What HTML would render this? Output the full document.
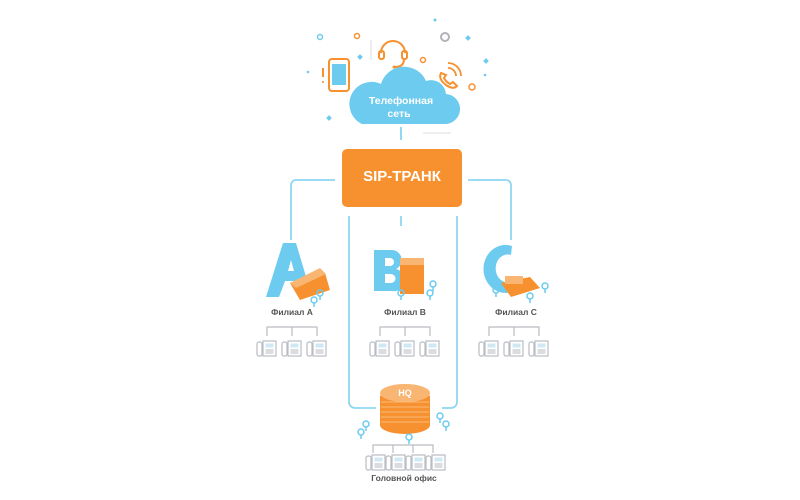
<!DOCTYPE html>
<html><head><meta charset="utf-8"><style>
html,body{margin:0;padding:0;background:#fff;width:800px;height:500px;overflow:hidden}
svg{display:block}
text{font-family:"Liberation Sans",sans-serif}
</style></head><body>
<svg width="800" height="500" viewBox="0 0 800 500" xmlns="http://www.w3.org/2000/svg">
<defs>
<g id="ph">
  <rect x="0" y="1" width="5" height="14" rx="2" fill="none" stroke="#b9bcc0" stroke-width="1.2"/>
  <rect x="6" y="0" width="13" height="15" fill="none" stroke="#b9bcc0" stroke-width="1.2"/>
  <rect x="8.5" y="2.5" width="8" height="4" fill="#cfe8f3"/>
  <rect x="8.5" y="8" width="8" height="5" fill="#dadcdf"/>
</g>
<g id="pin"><circle cx="0" cy="0" r="3" fill="none" stroke="#6ccbef" stroke-width="1.5"/><line x1="0" y1="3" x2="0" y2="7" stroke="#6ccbef" stroke-width="1.5"/></g>
</defs>

<g fill="#6ccbef">
<circle cx="320" cy="37" r="2.5" fill="none" stroke="#6ccbef" stroke-width="1.5"/>
<circle cx="435" cy="20" r="1.5"/>
<rect x="466" y="36" width="4" height="4" transform="rotate(45 468 38)"/>
<rect x="358" y="55" width="4" height="4" transform="rotate(45 360 57)"/>
<rect x="484" y="59" width="4" height="4" transform="rotate(45 486 61)"/>
<rect x="327" y="116" width="4" height="4" transform="rotate(45 329 118)"/>
<circle cx="308" cy="72" r="1.3"/><circle cx="485" cy="75" r="1.3"/>
</g>
<circle cx="357" cy="36" r="2.5" fill="none" stroke="#f7902e" stroke-width="1.5"/>
<circle cx="423" cy="60" r="2.5" fill="none" stroke="#f7902e" stroke-width="1.5"/>
<circle cx="472" cy="87" r="3" fill="none" stroke="#f7902e" stroke-width="1.5"/>
<circle cx="445" cy="37" r="4" fill="none" stroke="#b0b3b7" stroke-width="2"/>
<line x1="371" y1="40" x2="371" y2="60" stroke="#ddd" stroke-width="1"/>
<line x1="423" y1="133" x2="451" y2="133" stroke="#ddd" stroke-width="1"/>
<line x1="323" y1="68" x2="323" y2="77" stroke="#f7902e" stroke-width="2"/>
<circle cx="323" cy="82" r="1" fill="#f7902e"/>
<rect x="329" y="59" width="20" height="32" rx="3" fill="#fff" stroke="#f7902e" stroke-width="2"/>
<rect x="332" y="64" width="14" height="21" fill="#6ccbef"/>
<path d="M381 53 A12 12 0 0 1 405 53" fill="none" stroke="#f7902e" stroke-width="2"/>
<rect x="379" y="51" width="5" height="8" rx="2" fill="none" stroke="#f7902e" stroke-width="2"/>
<rect x="402" y="51" width="5" height="8" rx="2" fill="none" stroke="#f7902e" stroke-width="2"/>
<path d="M404 59 Q404 67 395 67" fill="none" stroke="#f7902e" stroke-width="2"/>
<circle cx="394" cy="67" r="1.5" fill="#f7902e"/>
<path d="M441 73 q-3 6 5 12 q7 5 11 1 l-4-4 -3 2 q-4-2-6-6 l2-3z" fill="none" stroke="#f7902e" stroke-width="2"/>
<path d="M448 68 a8 8 0 0 1 8 8 M448 63 a13 13 0 0 1 13 13" fill="none" stroke="#f7902e" stroke-width="1.8"/>

<!-- cloud -->
<path d="M362 124 h82 a15 15 0 0 0 2-30 a15 15 0 0 0-20-13 a24 24 0 0 0-45 3 a17 17 0 0 0-19 40z" fill="#6ccbef"/>
<text x="401" y="104" font-size="10.5" font-weight="bold" fill="#fff" text-anchor="middle">Телефонная</text>
<text x="399" y="117" font-size="10.5" font-weight="bold" fill="#fff" text-anchor="middle">сеть</text>
<line x1="401" y1="127" x2="401" y2="140" stroke="#6ccbef" stroke-width="1.5"/>

<g fill="none" stroke="#8fd6f2" stroke-width="1.8">
<path d="M335 180 H296 a5 5 0 0 0-5 5 V240"/>
<path d="M468 180 H506 a5 5 0 0 1 5 5 V240"/>
<path d="M349 216 V402 a6 6 0 0 0 6 6 H376"/>
<path d="M457 216 V402 a6 6 0 0 1-6 6 H442"/>
<path d="M401 216 V226"/>
</g>

<rect x="342" y="149" width="120" height="58" rx="5" fill="#f7902e"/>
<text x="402" y="181" font-size="15" font-weight="bold" fill="#fff" text-anchor="middle">SIP-ТРАНК</text>

<!-- Branch A -->
<path d="M266 297 L283 243 H296 L310 290 H300 L297 281 H285 L279 297z M288 271 H294 L291 260z" fill="#6ccbef" fill-rule="evenodd"/>
<path d="M290 283 L325 273 L330 290 L300 300z" fill="#f7902e"/>
<path d="M290 283 L320 268 L326 274 L296 288z" fill="#f9b572"/>
<use href="#pin" x="320" y="293"/><use href="#pin" x="314" y="300"/>
<text x="292" y="315" font-size="8.5" font-weight="bold" fill="#555" text-anchor="middle">Филиал A</text>
<!-- Branch B -->
<path d="M374 250 h18 a10 10 0 0 1 4 19 a11 11 0 0 1-4 22 h-18z M385 258 v8 h5 a4 4 0 0 0 0-8z M385 274 v9 h6 a4.5 4.5 0 0 0 0-9z" fill="#6ccbef" fill-rule="evenodd"/>
<rect x="400" y="264" width="24" height="30" fill="#f7902e"/>
<rect x="400" y="258" width="24" height="7" fill="#f9b572"/>
<use href="#pin" x="433" y="284"/><use href="#pin" x="430" y="293"/><use href="#pin" x="401" y="293"/>
<text x="405" y="315" font-size="8.5" font-weight="bold" fill="#555" text-anchor="middle">Филиал B</text>
<!-- Branch C -->
<path d="M512 246 a22 24 0 1 0 4 44 l-3-9 a12 14 0 1 1-2-26z" fill="#6ccbef"/>
<path d="M501 283 L530 277 L540 288 L511 297z" fill="#f7902e"/>
<rect x="505" y="276" width="18" height="8" fill="#f9b572"/>
<use href="#pin" x="545" y="286"/><use href="#pin" x="530" y="296"/><use href="#pin" x="496" y="290"/>
<text x="516" y="315" font-size="8.5" font-weight="bold" fill="#555" text-anchor="middle">Филиал C</text>

<g fill="none" stroke="#b9bcc0" stroke-width="1.2">
<path d="M267 336 V327 H317 V336 M292 327 V336"/>
<path d="M380 336 V327 H430 V336 M405 327 V336"/>
<path d="M489 336 V327 H539 V336 M514 327 V336"/>
<path d="M373 453 V445 H433 V453 M393 445 V453 M413 445 V453"/>
</g>
<use href="#ph" x="257" y="341"/><use href="#ph" x="282" y="341"/><use href="#ph" x="307" y="341"/>
<use href="#ph" x="370" y="341"/><use href="#ph" x="395" y="341"/><use href="#ph" x="420" y="341"/>
<use href="#ph" x="479" y="341"/><use href="#ph" x="504" y="341"/><use href="#ph" x="529" y="341"/>
<use href="#ph" x="366" y="455"/><use href="#ph" x="386" y="455"/><use href="#ph" x="406" y="455"/><use href="#ph" x="426" y="455"/>

<path d="M380 396 a27 10 0 0 1 50 0 V425 a25 9 0 0 1-50 0z" fill="#f7902e"/>
<ellipse cx="405" cy="393" rx="25" ry="9" fill="#f9b572"/>
<g stroke="#fbc894" stroke-width="0.8"><line x1="381" y1="402" x2="429" y2="402"/><line x1="381" y1="407" x2="429" y2="407"/><line x1="381" y1="412" x2="429" y2="412"/><line x1="381" y1="417" x2="429" y2="417"/><line x1="381" y1="422" x2="429" y2="422"/></g>
<text x="405" y="396" font-size="9" font-weight="bold" fill="#fff" text-anchor="middle">HQ</text>
<use href="#pin" x="366" y="424"/><use href="#pin" x="361" y="432"/><use href="#pin" x="440" y="416"/><use href="#pin" x="446" y="424"/><use href="#pin" x="409" y="437"/>
<text x="404" y="481" font-size="8.5" font-weight="bold" fill="#555" text-anchor="middle">Головной офис</text>
</svg>
</body></html>
